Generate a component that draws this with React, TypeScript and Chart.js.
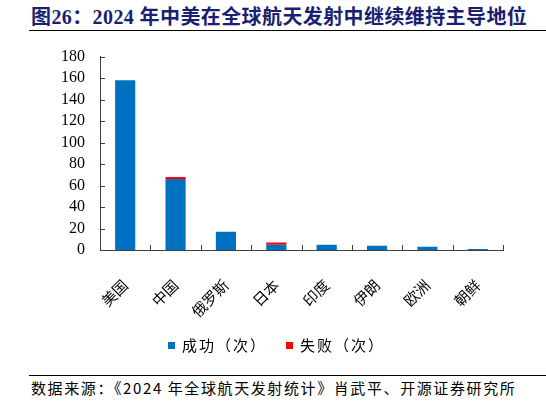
import React, { useEffect, useRef } from "react";
import { Chart, registerables } from "chart.js";

Chart.register(...registerables);

const categories = ["美国", "中国", "俄罗斯", "日本", "印度", "伊朗", "欧洲", "朝鲜"];
const successValues = [158, 66, 17, 5, 5, 4, 3, 1];
const failureValues = [0, 2, 0, 2, 0, 0, 0, 0];
const seriesNames = ["成功（次）", "失败（次）"];
const seriesColors = ["#0070C0", "#FF0000"];
const yTicks = { min: 0, max: 180, step: 20 };

const titleText = "图26：2024 年中美在全球航天发射中继续维持主导地位";
const sourceText = "数据来源：《2024 年全球航天发射统计》肖武平、开源证券研究所";

const SERIF = "'Liberation Serif', 'Noto Sans CJK SC', serif";
const CJK = "'Noto Sans CJK SC', 'Liberation Serif', sans-serif";

const innerTicks = {
  id: "innerTicks",
  afterDraw(chart: any) {
    const { ctx } = chart;
    const xs = chart.scales.x;
    const ys = chart.scales.y;
    ctx.save();
    ctx.strokeStyle = "#404040";
    ctx.lineWidth = 1;
    for (const t of ys.ticks) {
      const y = Math.round(ys.getPixelForValue(t.value)) + 0.5;
      ctx.beginPath();
      ctx.moveTo(xs.left, y);
      ctx.lineTo(xs.left + 5, y);
      ctx.stroke();
    }
    const n = categories.length;
    const w = (xs.right - xs.left) / n;
    for (let i = 0; i <= n; i++) {
      const x = Math.round(xs.left + i * w) + 0.5;
      ctx.beginPath();
      ctx.moveTo(x, ys.bottom);
      ctx.lineTo(x, ys.bottom - 5);
      ctx.stroke();
    }
    ctx.restore();
  },
};

function ChartView() {
  const ref = useRef<HTMLCanvasElement | null>(null);
  useEffect(() => {
    if (!ref.current) return;
    const chart = new Chart(ref.current, {
      type: "bar",
      data: {
        labels: categories,
        datasets: [
          {
            label: seriesNames[0],
            data: successValues,
            backgroundColor: seriesColors[0],
            barPercentage: 0.4,
            categoryPercentage: 1,
          },
          {
            label: seriesNames[1],
            data: failureValues,
            backgroundColor: seriesColors[1],
            barPercentage: 0.4,
            categoryPercentage: 1,
          },
        ],
      },
      options: {
        animation: false,
        responsive: false,
        maintainAspectRatio: false,
        layout: { padding: { top: 11, right: 43, left: 0, bottom: 0 } },
        plugins: {
          legend: { display: false },
          tooltip: { enabled: false },
        },
        scales: {
          x: {
            stacked: true,
            offset: true,
            grid: { display: false, drawTicks: false },
            border: { display: true, color: "#404040", width: 1 },
            ticks: {
              color: "#000",
              font: { family: CJK, size: 15 },
              minRotation: 45,
              maxRotation: 45,
              autoSkip: false,
              padding: 26,
            },
            afterFit(scale: any) {
              scale.height = 86;
            },
          },
          y: {
            stacked: true,
            min: yTicks.min,
            max: yTicks.max,
            grid: { display: false, drawTicks: false },
            border: { display: true, color: "#404040", width: 1 },
            ticks: {
              stepSize: yTicks.step,
              autoSkip: false,
              color: "#000",
              font: { family: SERIF, size: 16 },
              padding: 15,
            },
            afterFit(scale: any) {
              scale.width = 100;
            },
          },
        },
      },
      plugins: [innerTicks],
    });
    return () => chart.destroy();
  }, []);
  return <canvas ref={ref} width={546} height={304} style={{ display: "block", width: 546, height: 304 }} />;
}

function Legend() {
  const items = [
    { left: 168, color: seriesColors[0], text: seriesNames[0] },
    { left: 286, color: seriesColors[1], text: seriesNames[1] },
  ];
  return (
    <>
      {items.map((it) => (
        <div key={it.text} style={{ position: "absolute", left: it.left, top: 335, height: 20, display: "flex", alignItems: "center" }}>
          <div style={{ width: 7, height: 7, background: it.color, marginRight: 7 }} />
          <span style={{ fontFamily: CJK, fontSize: 15, letterSpacing: "2px", color: "#000", lineHeight: "20px", whiteSpace: "nowrap" }}>{it.text}</span>
        </div>
      ))}
    </>
  );
}

export default function App() {
  return (
    <div style={{ position: "fixed", left: 0, top: 0, width: 546, height: 405, background: "#fff", overflow: "hidden" }}>
      <div
        style={{
          position: "absolute",
          left: 31,
          top: 5,
          fontFamily: SERIF,
          fontWeight: "bold",
          fontSize: 20,
          letterSpacing: "0.4px",
          color: "#1a1f71",
          whiteSpace: "nowrap",
          lineHeight: "24px",
        }}
      >
        {titleText}
      </div>
      <div style={{ position: "absolute", left: 29, top: 30, width: 517, height: 0, borderTop: "1.5px solid #000" }} />
      <div style={{ position: "absolute", left: 0, top: 32 }}>
        <ChartView />
      </div>
      <Legend />
      <div style={{ position: "absolute", left: 29, top: 375, width: 517, height: 0, borderTop: "1px solid #000" }} />
      <div
        style={{
          position: "absolute",
          left: 31,
          top: 378,
          fontFamily: CJK,
          fontSize: 15,
          letterSpacing: "1.6px",
          color: "#000",
          whiteSpace: "nowrap",
          lineHeight: "20px",
        }}
      >
        {sourceText}
      </div>
    </div>
  );
}
